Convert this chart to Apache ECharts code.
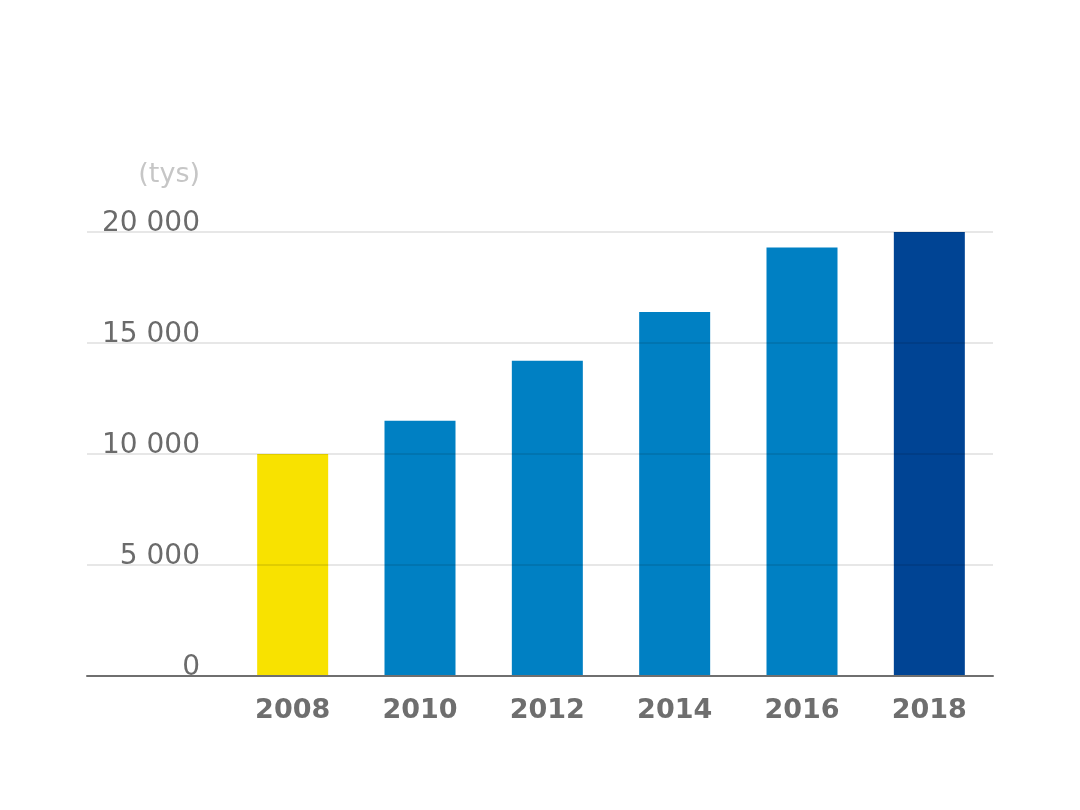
<!DOCTYPE html>
<html>
<head>
<meta charset="utf-8">
<script src="https://cdn.jsdelivr.net/npm/echarts@6/dist/echarts.min.js"></script>
<style>html,body{margin:0;padding:0;background:#fff;}#c{width:1080px;height:810px;}</style>
</head>
<body>
<div id="c"></div>
<script>
var years = ['2008', '2010', '2012', '2014', '2016', '2018'];
var values = [10000, 11500, 14200, 16400, 19300, 20000];
var barColors = ['#F8E200', '#0080C3', '#0080C3', '#0080C3', '#0080C3', '#004494'];
var yTicks = [0, 5000, 10000, 15000, 20000];
var unitLabel = '(tys)';

var FONT = 'DejaVu Sans';
function fmt(v) { return String(v).replace(/\B(?=(\d{3})+(?!\d))/g, ' '); }

var chart = echarts.init(document.getElementById('c'));
chart.setOption({
  animation: false,
  backgroundColor: '#fff',
  grid: [
    { left: 87, right: 87, top: 232, bottom: 134 },
    { left: 229, right: 87, top: 232, bottom: 134 }
  ],
  xAxis: [
    { gridIndex: 0, type: 'value', min: 0, max: 1, z: 4,
      axisLine: { show: true, lineStyle: { color: '#6f6f6f', width: 2 } },
      axisTick: { show: false }, axisLabel: { show: false }, splitLine: { show: false } },
    { gridIndex: 1, type: 'category', data: years,
      axisLine: { show: false }, axisTick: { show: false },
      axisLabel: { color: '#6e6e6e', fontFamily: FONT, fontWeight: 'bold', fontSize: 27, margin: 21 } }
  ],
  yAxis: [
    { gridIndex: 0, type: 'value', min: yTicks[0], max: yTicks[yTicks.length - 1], interval: 5000, z: 3,
      axisLine: { show: false }, axisTick: { show: false },
      splitLine: { show: true, lineStyle: { color: 'rgba(0,0,0,0.13)', width: 1.5 } },
      axisLabel: { inside: true, margin: 113, align: 'right', verticalAlign: 'bottom', lineHeight: 28,
        color: '#6b6b6b', fontFamily: FONT, fontSize: 28, padding: [0, 0, -6, 0],
        formatter: function (v) { return fmt(v); } } },
    { gridIndex: 1, type: 'value', min: yTicks[0], max: yTicks[yTicks.length - 1], interval: 5000,
      show: false, splitLine: { show: false } }
  ],
  graphic: [
    { type: 'text', right: 1080 - 200, top: 161,
      style: { text: unitLabel, fill: '#c6c6c6', font: '27px "' + FONT + '"' } }
  ],
  series: [
    { type: 'bar', xAxisIndex: 1, yAxisIndex: 1, barWidth: 71, z: 2,
      data: values.map(function (v, i) { return { value: v, itemStyle: { color: barColors[i] } }; }) }
  ]
});
</script>
</body>
</html>
